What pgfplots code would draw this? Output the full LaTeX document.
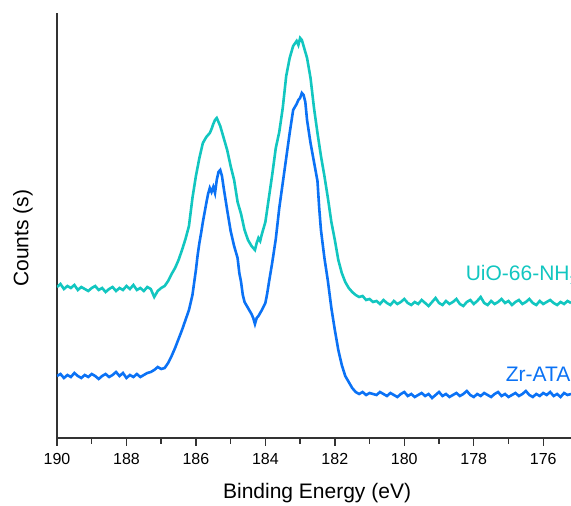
\documentclass[border=0pt]{standalone}
\usepackage{fontspec}
\setmainfont{Liberation Sans}
\usepackage{pgfplots}
\pgfplotsset{compat=1.18}
\definecolor{uiocyan}{HTML}{12C6C0}
\definecolor{atablue}{HTML}{0B72F5}

\pgfplotstableread{
E y
190.0 151
189.9 154
189.8 149
189.7 152
189.6 150
189.5 153
189.4 148
189.3 151
189.2 149
189.1 147
189.0 150
188.9 152
188.8 148
188.7 150
188.6 146
188.5 149
188.4 151
188.3 147
188.2 150
188.1 148
188.0 152
187.9 149
187.8 153
187.7 148
187.6 150
187.5 147
187.4 151
187.3 149
187.2 141
187.1 147
187.0 150
186.9 152
186.8 157
186.7 164
186.6 170
186.5 178
186.4 188
186.3 199
186.2 212
186.1 240
186.0 262
185.9 280
185.8 295
185.7 301
185.6 305
185.55 309
185.5 314
185.45 318
185.4 320
185.35 316
185.3 312
185.2 300
185.1 288
185.0 272
184.9 258
184.8 236
184.7 224
184.6 208
184.5 198
184.4 192
184.3 188
184.25 195
184.2 200
184.15 197
184.1 204
184.0 216
183.9 240
183.8 264
183.7 290
183.6 306
183.5 330
183.4 362
183.3 380
183.2 392
183.1 397
183.05 393
183.0 400
182.95 398
182.9 392
182.8 380
182.7 360
182.6 330
182.5 305
182.4 282
182.3 262
182.2 240
182.1 216
182.0 198
181.9 178
181.8 165
181.7 156
181.6 150
181.5 146
181.4 143
181.3 141
181.2 142
181.1 138
181.0 139
180.9 136
180.8 137
180.7 134
180.6 138
180.5 135
180.4 133
180.3 137
180.2 134
180.1 136
180.0 139
179.9 135
179.8 133
179.7 136
179.6 134
179.5 138
179.4 135
179.3 132
179.2 136
179.1 140
179.0 135
178.9 133
178.8 137
178.7 134
178.6 136
178.5 139
178.4 134
178.3 132
178.2 136
178.1 138
178.0 134
177.9 137
177.8 141
177.7 135
177.6 133
177.5 137
177.4 134
177.3 136
177.2 139
177.1 135
177.0 137
176.9 133
176.8 136
176.7 138
176.6 134
176.5 136
176.4 139
176.3 135
176.2 133
176.1 137
176.0 134
175.9 136
175.8 138
175.7 135
175.6 133
175.5 136
175.4 134
175.3 137
175.2 135
}\uiodata

\pgfplotstableread{
E y
190.0 62
189.9 64
189.8 60
189.7 63
189.6 61
189.5 65
189.4 62
189.3 60
189.2 63
189.1 61
189.0 64
188.9 62
188.8 59
188.7 62
188.6 64
188.5 61
188.4 63
188.3 66
188.2 62
188.1 65
188.0 60
187.9 63
187.8 61
187.7 64
187.6 61
187.5 63
187.4 65
187.3 66
187.2 68
187.1 71
187.0 69
186.9 70
186.8 75
186.7 82
186.6 90
186.5 99
186.4 108
186.3 118
186.2 128
186.1 143
186.0 168
185.95 183
185.9 195
185.85 205
185.8 216
185.7 235
185.65 244
185.6 250
185.55 246
185.5 251
185.45 245
185.4 258
185.35 266
185.3 268
185.25 262
185.2 250
185.1 228
185.0 207
184.9 192
184.8 180
184.75 165
184.7 156
184.65 143
184.6 136
184.5 130
184.4 124
184.35 120
184.3 114
184.25 120
184.2 122
184.1 128
184.0 135
183.95 144
183.9 155
183.8 176
183.7 199
183.6 230
183.5 255
183.4 280
183.3 305
183.2 328
183.1 334
183.05 338
183.0 340
182.95 345
182.9 343
182.85 336
182.8 318
182.7 295
182.6 276
182.5 257
182.45 230
182.4 208
182.3 180
182.2 157
182.1 130
182.0 108
181.9 88
181.8 73
181.7 62
181.6 56
181.5 50
181.4 46
181.3 44
181.2 46
181.1 43
181.0 45
180.9 44
180.8 43
180.7 46
180.6 44
180.5 42
180.4 45
180.3 43
180.2 41
180.1 44
180.0 46
179.9 42
179.8 44
179.7 41
179.6 43
179.5 45
179.4 42
179.3 44
179.2 40
179.1 43
179.0 46
178.9 42
178.8 44
178.7 41
178.6 43
178.5 45
178.4 42
178.3 44
178.2 47
178.1 43
178.0 41
177.9 44
177.8 42
177.7 45
177.6 43
177.5 41
177.4 44
177.3 46
177.2 42
177.1 44
177.0 41
176.9 43
176.8 45
176.7 42
176.6 44
176.5 47
176.4 43
176.3 41
176.2 44
176.1 42
176.0 45
175.9 43
175.8 46
175.7 42
175.6 44
175.5 41
175.4 45
175.3 43
175.2 44
}\atadata

\begin{document}
\begin{tikzpicture}
\begin{axis}[
  at={(0,0)}, anchor=south west,
  scale only axis, width=257pt, height=212.5pt,
  x dir=reverse, xmin=175.2, xmax=190,
  ymin=0, ymax=425,
  axis x line=bottom, axis y line=left,
  axis line style={-, line width=0.7pt, black!80},
  xtick={176,178,...,190}, minor xtick={175,177,...,189},
  ytick=\empty,
  tick align=outside,
  major tick length=4pt, minor tick length=3pt,
  tick style={line width=0.7pt, black!80},
  /pgf/number format/assume math mode=true,
  /pgf/number format/1000 sep={},
  ticklabel style={font=\fontsize{8}{9.6}\selectfont},
  label style={font=\fontsize{10.5}{12.6}\selectfont},
  xlabel={Binding Energy (eV)},
  xlabel style={at={(rel axis cs:0.506,0)}, anchor=center, yshift=-27.5pt},
]
\addplot[atablue, line width=1.3pt, no marks] table[x=E, y=y] {\atadata};
\addplot[uiocyan, line width=1.3pt, no marks] table[x=E, y=y] {\uiodata};
\node[anchor=west, text=uiocyan, font=\fontsize{10.5}{12.6}\selectfont, inner sep=0pt] at (axis cs:178.24,163) {UiO-66-NH$_2$};
\node[anchor=west, text=atablue, font=\fontsize{10.5}{12.6}\selectfont, inner sep=0pt] at (axis cs:177.09,64) {Zr-ATA};
\end{axis}
\node[rotate=90, font=\fontsize{10.5}{12.6}\selectfont] at (-17pt,99.9pt) {Counts (s)};
\pgfresetboundingbox
\path[use as bounding box] (-28.5pt,-34pt) rectangle (257pt,219pt);
\end{tikzpicture}
\end{document}
